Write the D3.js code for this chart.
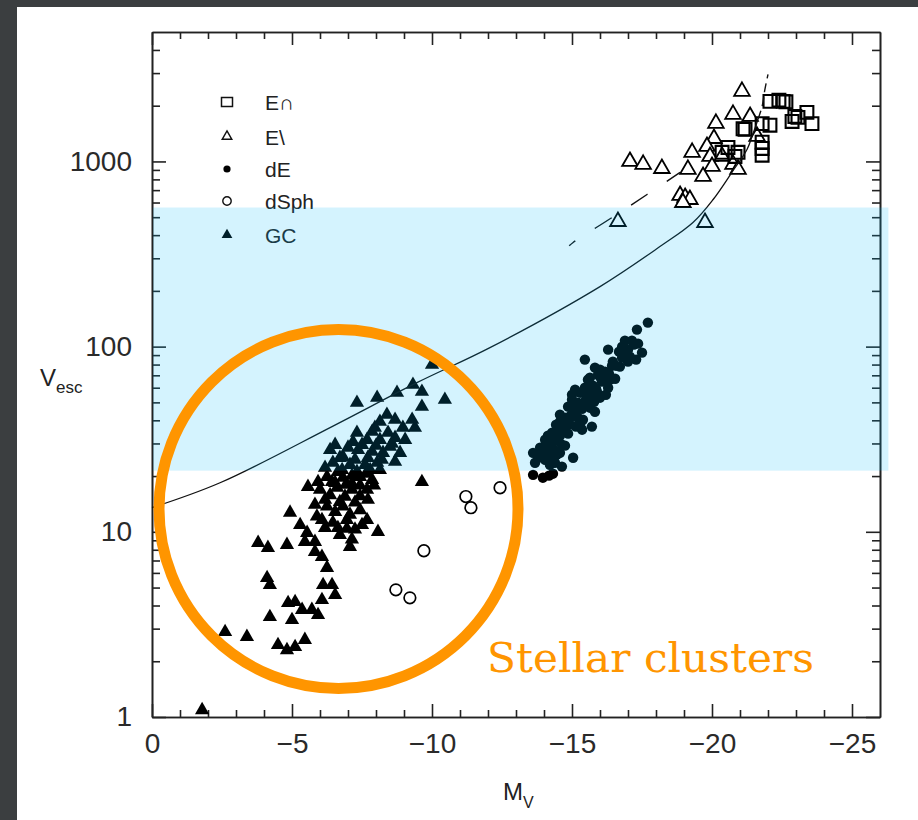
<!DOCTYPE html>
<html>
<head>
<meta charset="utf-8">
<script src="https://cdn.jsdelivr.net/npm/d3@7"></script>
<style>
body { margin: 0; background: #3b3e40; }
svg { display: block; }
</style>
</head>
<body>
<script>
// values: [Mv, Vesc]
const enData = [
  [-22.07,2110],[-22.39,2140],[-22.54,2110],[-22.64,2100],[-22.96,1750],[-23.39,1840],[-23.57,1600],
  [-22.86,1645],[-23.07,1730],[-21.11,1500],[-21.18,1490],[-21.79,1600],[-22.07,1570],[-21.79,1270],
  [-21.79,1175],[-21.79,1080],[-20.57,1190],[-20.93,1120],[-20.36,1120],[-20.82,1064]
];
const exData = [
  [-21.07,2390],[-20.75,1795],[-21.36,1750],[-20.14,1605],[-20.07,1330],[-19.82,1205],[-19.29,1120],
  [-19.93,1064],[-20.36,1064],[-19.14,906],[-20.0,940],[-19.68,830],[-20.75,964],[-20.93,906],
  [-17.07,1000],[-17.54,964],[-18.21,916],[-16.64,474],[-19.75,468],[-21.61,1365],
  [-18.86,655],[-19.04,639],[-19.21,623],[-18.96,600]
];
const dEData = [
  [-17.71,134.8],[-17.32,123.6],[-16.89,107.8],[-17.14,107.8],[-17.36,103.8],[-16.79,100],[-16.93,93.9],
  [-17.07,88.3],[-17.0,83.0],[-17.29,85.1],[-17.5,92.8],[-16.29,96.3],[-15.46,85.1],[-16.71,78.0],
  [-15.82,77.0],[-16.0,75.1],[-16.18,73.2],[-16.43,78.9],[-15.93,70.6],[-15.64,68.0],[-16.36,66.3],
  [-16.54,67.1],[-16.07,64.7],[-15.75,61.5],[-15.57,60.0],[-16.29,60.0],
  [-15.11,58.6],[-15.29,56.4],[-15.46,60.0],[-15.71,55.0],[-15.89,57.1],[-15.0,51.7],[-15.21,49.8],
  [-15.5,51.7],[-15.79,50.4],[-16.0,53.0],[-14.86,47.4],[-15.36,46.2],[-15.64,46.8],
  [-14.57,42.9],[-14.79,41.3],[-15.0,43.4],[-15.21,41.3],[-15.39,40.3],[-14.43,37.9],[-14.68,36.5],
  [-14.93,37.9],[-15.14,37.0],[-15.36,35.6],[-15.71,37.0],[-14.29,34.3],[-14.57,33.0],[-14.86,33.9],
  [-14.04,31.4],[-14.21,30.3],[-14.43,31.0],[-14.64,29.5],[-13.86,28.5],[-14.11,27.1],[-14.36,27.7],
  [-14.57,26.7],[-13.79,25.1],[-14.04,24.5],[-14.29,25.1],[-13.61,26.7],[-13.68,23.6],[-14.21,23.0],
  [-15.04,25.1],[-14.64,22.5],[-14.39,23.6],
  [-13.61,20.3],[-13.96,19.6],[-14.18,20.1],[-14.32,20.6],
  [-14.04,28.8],[-14.29,31.4],[-14.5,34.7],[-14.75,38.4],[-14.96,41.8],[-15.18,45.6],[-15.43,49.8],
  [-15.64,54.3],[-15.86,59.3],[-16.11,65.5],[-16.32,71.5],[-16.57,78.9],[-16.79,87.2],[-17.0,96.3],
  [-17.21,102.5],[-13.89,27.1],[-14.14,33.0],[-14.57,39.3],[-15.07,48.6],[-15.54,57.1],[-16.0,68.8],
  [-16.46,83.0],[-16.68,93.9],[-14.75,29.2],[-15.29,37.9],[-15.82,44.5],[-16.21,55.0],[-15.57,66.3],
  [-15.0,55.0],[-14.46,26.1]
];
const dSphData = [
  [-11.21,15.5],[-11.39,13.5],[-12.43,17.3],[-9.71,7.9],[-8.71,4.86],[-9.21,4.4]
];
const gcData = [
  [-10.0,79.9],[-9.32,62.3],[-9.64,57.1],[-8.75,56.4],[-8.04,53.0],[-7.32,49.8],[-10.46,51.7],[-9.64,47.4],
  [-8.39,42.9],[-9.29,40.3],[-8.14,39.3],[-7.96,36.5],[-8.96,36.5],[-9.39,36.5],[-8.68,40.3],
  [-7.32,34.3],[-8.43,34.3],[-7.18,30.6],[-7.68,31.4],[-8.14,31.4],[-8.68,32.2],[-7.86,34.7],
  [-6.36,27.7],[-6.82,25.4],[-7.36,27.7],[-7.86,27.1],[-8.25,26.7],[-8.86,26.7],[-8.5,28.8],
  [-6.46,23.6],[-7.07,23.0],[-7.61,23.0],[-8.04,23.6],[-6.79,21.6],[-7.32,21.1],[-7.79,21.6],
  [-6.25,19.8],[-6.82,19.6],[-7.43,19.8],[-7.86,19.1],[-9.64,18.6],[-6.54,18.4],[-7.14,18.2],
  [-5.57,17.5],[-6.0,16.9],[-6.61,17.3],[-7.14,16.9],[-7.68,16.9],[-6.36,15.8],[-6.89,15.5],[-7.43,15.6],
  [-6.54,29.5],[-7.0,28.5],[-7.5,29.5],[-8.0,29.2],[-8.57,29.9],[-9.04,31.4],[-6.71,25.1],[-7.25,24.5],
  [-7.71,25.1],[-8.21,24.5],[-8.68,23.9],[-6.18,22.2],[-6.64,21.1],[-7.14,20.1],[-7.64,20.6],[-8.14,21.6],
  [-5.93,18.6],[-6.43,18.6],[-6.93,18.0],[-7.43,17.8],[-7.93,17.8],[-6.18,14.9],[-6.71,14.5],[-7.25,14.4],
  [-5.82,14.0],[-7.07,12.4],[-6.07,11.6],[-6.64,10.5],[-7.5,10.9],[-7.71,14.9],
  [-6.25,13.7],[-6.82,13.7],[-4.93,12.7],[-5.89,12.1],[-6.46,11.2],[-6.96,11.6],[-7.25,10.3],[-6.54,12.8],
  [-7.43,13.1],[-6.18,10.5],[-6.71,9.63],[-5.29,10.9],[-6.96,10.4],[-7.14,9.1],
  [-5.54,9.88],[-5.46,8.83],[-5.82,8.83],[-3.79,8.72],[-4.14,8.20],[-4.82,8.51],[-7.07,8.30],[-8.07,10.0],[-7.68,11.6],
  [-6.07,7.33],[-6.25,6.39],[-5.82,7.80],
  [-4.11,5.64],[-4.21,5.17],[-6.11,5.17],[-6.43,5.17],[-6.54,4.56],
  [-6.07,4.29],[-4.86,4.13],[-5.11,4.18],[-5.36,3.79],[-5.71,3.79],[-5.93,3.56],[-4.21,3.47],[-5.0,3.34],
  [-2.61,2.88],[-3.39,2.71],[-4.5,2.45],[-4.82,2.30],[-5.11,2.39],[-5.46,2.61],
  [-1.79,1.09]
];
const curveData = [
  [0,13.5],[-2.43,18.4],[-6.43,37.0],[-9.46,63.9],[-12.07,98.8],[-16.0,211],[-18.14,347],
  [-19.32,468],[-20.04,623],[-20.71,873],[-21.25,1161],[-21.43,1365],[-21.64,1686]
];
const curveTop = [[-21.64,1686],[-21.79,1984],[-21.89,2449],[-22.0,2953]];
const dashData = [[-14.9,350],[-15.04,365],[-16.43,498],[-17.68,663],[-18.86,873]];
const bandMv = [0, -26.3];
const bandVesc = [21.4, 564];

const xMajor = [0, -5, -10, -15, -20, -25];
const yMajor = [1, 10, 100, 1000];
const legendLabels = ["E∩", "E\\", "dE", "dSph", "GC"];

const svg = d3.select("body").append("svg").attr("width", 918).attr("height", 820);
svg.append("rect").attr("x", 17).attr("y", 7).attr("width", 901).attr("height", 813).attr("fill", "#fff");

const x = d3.scaleLinear().domain([0, -26]).range([152, 880]);
const y = d3.scaleLog().domain([1, 5000]).range([717, 32]);

const xMinor = d3.range(-1, -26, -1).filter(v => v % 5 !== 0);
const yMinor = [1, 10, 100, 1000].flatMap(d => d3.range(2, 10).map(k => k * d)).filter(v => v < 5000);

const font = "'Liberation Sans', Arial, sans-serif";
function styleAxis(g) {
  g.selectAll("path, line").attr("stroke", "#222").attr("stroke-width", 1.6);
  g.selectAll("text").attr("font-family", font).attr("font-size", 28).attr("fill", "#2a2a2a");
}

// bottom / top
svg.append("g").attr("transform", "translate(0,717)")
  .call(d3.axisBottom(x).tickValues(xMajor).tickSize(-13).tickSizeOuter(0).tickPadding(16).tickFormat(d3.format("d")))
  .call(styleAxis);
svg.append("g").attr("transform", "translate(0,717)")
  .call(d3.axisBottom(x).tickValues(xMinor).tickSize(-7).tickSizeOuter(0).tickFormat(""))
  .call(styleAxis);
svg.append("g").attr("transform", "translate(0,32)")
  .call(d3.axisTop(x).tickValues(xMajor).tickSize(-13).tickSizeOuter(0).tickFormat(""))
  .call(styleAxis);
svg.append("g").attr("transform", "translate(0,32)")
  .call(d3.axisTop(x).tickValues(xMinor).tickSize(-7).tickSizeOuter(0).tickFormat(""))
  .call(styleAxis);

// left / right
svg.append("g").attr("transform", "translate(152,0)")
  .call(d3.axisLeft(y).tickValues(yMajor).tickSize(-14).tickSizeOuter(0).tickPadding(20).tickFormat(d3.format("d")))
  .call(styleAxis);
svg.append("g").attr("transform", "translate(152,0)")
  .call(d3.axisLeft(y).tickValues(yMinor).tickSize(-8).tickSizeOuter(0).tickFormat(""))
  .call(styleAxis);
svg.append("g").attr("transform", "translate(880,0)")
  .call(d3.axisRight(y).tickValues(yMajor).tickSize(-14).tickSizeOuter(0).tickFormat(""))
  .call(styleAxis);
svg.append("g").attr("transform", "translate(880,0)")
  .call(d3.axisRight(y).tickValues(yMinor).tickSize(-8).tickSizeOuter(0).tickFormat(""))
  .call(styleAxis);

// axis titles
const xt = svg.append("text").attr("x", 503).attr("y", 800).attr("font-family", font).attr("font-size", 24).attr("fill", "#222").text("M");
xt.append("tspan").attr("dy", 8).attr("font-size", 16).text("V");
const yt = svg.append("text").attr("x", 40).attr("y", 386).attr("font-family", font).attr("font-size", 24).attr("fill", "#222").text("V");
yt.append("tspan").attr("dy", 7).attr("font-size", 17).text("esc");

const pos = d => `translate(${x(d[0])},${y(d[1])})`;

// markers
svg.append("g").selectAll("path").data(gcData).join("path")
  .attr("transform", pos).attr("d", d3.symbol(d3.symbolTriangle, 88)).attr("fill", "#000");
svg.append("g").selectAll("circle").data(dEData).join("circle")
  .attr("cx", d => x(d[0])).attr("cy", d => y(d[1])).attr("r", 5.2).attr("fill", "#000");
svg.append("g").selectAll("circle").data(dSphData).join("circle")
  .attr("cx", d => x(d[0])).attr("cy", d => y(d[1])).attr("r", 5.8)
  .attr("fill", "none").attr("stroke", "#000").attr("stroke-width", 1.7);
svg.append("g").selectAll("path").data(exData).join("path")
  .attr("transform", pos).attr("d", d3.symbol(d3.symbolTriangle, 105))
  .attr("fill", "#fff").attr("stroke", "#000").attr("stroke-width", 1.8);
svg.append("g").selectAll("path").data(enData).join("path")
  .attr("transform", pos).attr("d", d3.symbol(d3.symbolSquare, 165))
  .attr("fill", "none").attr("stroke", "#000").attr("stroke-width", 2.1);

// curves
const line = d3.line().x(d => x(d[0])).y(d => y(d[1])).curve(d3.curveCatmullRom.alpha(0.5));
svg.append("path").datum(curveData).attr("d", line)
  .attr("fill", "none").attr("stroke", "#111").attr("stroke-width", 1.3);
svg.append("path").datum(curveTop).attr("d", line)
  .attr("fill", "none").attr("stroke", "#111").attr("stroke-width", 1.4).attr("stroke-dasharray", "9,5");
svg.append("path").datum(dashData).attr("d", line)
  .attr("fill", "none").attr("stroke", "#111").attr("stroke-width", 1.4)
  .attr("stroke-dasharray", "20,23").attr("stroke-dashoffset", 12);

// legend
const shapes = [
  g => g.append("rect").attr("x", -5.5).attr("y", -4.5).attr("width", 11).attr("height", 9).attr("fill", "none").attr("stroke", "#111").attr("stroke-width", 1.5),
  g => g.append("path").attr("d", d3.symbol(d3.symbolTriangle, 40)).attr("fill", "none").attr("stroke", "#111").attr("stroke-width", 1.4),
  g => g.append("circle").attr("r", 3.6).attr("fill", "#000"),
  g => g.append("circle").attr("r", 4.2).attr("fill", "none").attr("stroke", "#111").attr("stroke-width", 1.4),
  g => g.append("path").attr("d", d3.symbol(d3.symbolTriangle, 50)).attr("fill", "#000")
];
const legendY = [102, 136.5, 169, 201, 235];
legendLabels.forEach((lab, i) => {
  const g = svg.append("g").attr("transform", `translate(227,${legendY[i]})`);
  shapes[i](g);
  g.append("text").attr("x", 38).attr("y", 8).attr("font-family", font).attr("font-size", 21).attr("fill", "#222").text(lab);
});

// blue band
svg.append("rect")
  .attr("x", x(bandMv[0]) + 1).attr("y", y(bandVesc[1]))
  .attr("width", x(bandMv[1]) - x(bandMv[0]) - 1).attr("height", y(bandVesc[0]) - y(bandVesc[1]))
  .attr("fill", "rgb(0,183,248)").attr("fill-opacity", 0.17);

// annotation
svg.append("circle").attr("cx", 338.5).attr("cy", 509).attr("r", 179.5)
  .attr("fill", "none").attr("stroke", "#ff9500").attr("stroke-width", 11);
svg.append("text").attr("x", 487).attr("y", 672)
  .attr("font-family", "'DejaVu Serif', serif").attr("font-size", 41)
  .attr("textLength", 327).attr("lengthAdjust", "spacingAndGlyphs")
  .attr("fill", "#ff9500").text("Stellar clusters");
</script>
</body>
</html>
